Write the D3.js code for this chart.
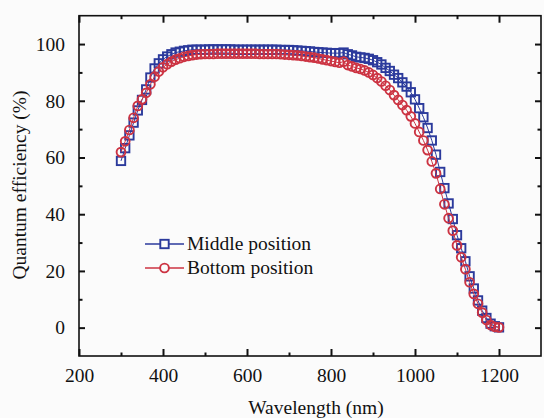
<!DOCTYPE html>
<html>
<head>
<meta charset="utf-8">
<script src="https://cdn.jsdelivr.net/npm/d3@7"></script>
<style>
  html, body { margin: 0; padding: 0; background: #fbfbfb; }
  svg { display: block; }
  text { font-family: "Liberation Serif", "Times New Roman", serif; fill: #111; }
</style>
</head>
<body>
<svg id="chart" width="544" height="418"></svg>
<script>
// Wavelength grid (nm), 10 nm steps
const wavelengths = d3.range(300, 1201, 10);

// External quantum efficiency (%) at the middle position
const middleQE = [
  58.8, 63.3, 67.8, 72.3, 76.6, 80.3, 84.0, 88.2, 91.4, 93.2,
  94.6, 95.6, 96.4, 97.0, 97.3, 97.6, 97.8, 98.0, 98.0, 98.0,
  98.0, 98.1, 98.1, 98.1, 98.1, 98.1, 98.1, 98.0, 98.0, 98.0,
  98.0, 98.0, 98.0, 98.0, 98.0, 98.0, 98.0, 98.0, 97.9, 97.9,
  97.9, 97.8, 97.7, 97.6, 97.5, 97.4, 97.2, 97.1, 97.0, 96.9,
  96.8, 96.8, 96.8, 97.0, 96.4, 96.0, 95.5, 95.3, 95.1, 94.8,
  94.3, 93.6, 92.8, 91.6, 90.5, 89.2, 88.0, 86.5, 85.0, 83.0,
  80.5, 77.4, 74.2, 70.4, 66.0, 61.0, 54.9, 49.2, 43.8, 38.3,
  32.6, 28.0, 23.4, 18.1, 13.8, 9.6, 6.0, 3.4, 1.4, 0.5,
  0.1
];

// External quantum efficiency (%) at the bottom position
const bottomQE = [
  61.9, 65.7, 69.7, 74.0, 78.2, 80.5, 82.8, 85.8, 88.5, 90.3,
  91.8, 92.9, 93.8, 94.5, 95.0, 95.5, 95.8, 96.1, 96.3, 96.4,
  96.5, 96.5, 96.5, 96.6, 96.6, 96.6, 96.6, 96.6, 96.6, 96.6,
  96.6, 96.6, 96.6, 96.5, 96.5, 96.5, 96.5, 96.5, 96.4, 96.3,
  96.2, 96.1, 96.0, 95.8, 95.6, 95.4, 95.2, 94.9, 94.6, 94.3,
  94.0, 93.7, 93.4, 93.8, 92.6, 92.1, 91.6, 91.2, 90.7, 90.0,
  89.1, 88.0, 86.8, 85.3, 83.8, 82.0, 80.3, 78.5, 76.7, 74.5,
  72.0, 69.0, 66.0, 62.6, 58.6, 54.4, 48.9, 43.5, 38.6, 34.2,
  29.0, 24.8, 20.6, 16.0, 11.9, 8.4, 5.3, 2.7, 0.9, 0.3,
  0.1
];

const xTicks = [200, 400, 600, 800, 1000, 1200];
const yTicks = [0, 20, 40, 60, 80, 100];
const seriesNames = ["Middle position", "Bottom position"];
const blue = "#2b3a9c";
const red = "#cc3342";

const svg = d3.select("#chart");
const plotLeft = 79, plotRight = 541, plotTop = 15.7, plotBottom = 356;

const x = d3.scaleLinear().domain([200, 1300]).range([plotLeft, plotRight]);
const y = d3.scaleLinear().domain([-10, 110]).range([plotBottom, plotTop]);

const fontSize = "19.5px";
const serif = '"Liberation Serif", "Times New Roman", serif';

// Axes with inward-pointing major and minor ticks on all four sides
function styleAxis(g) {
  g.select(".domain").remove();
  g.selectAll(".tick line").attr("stroke", "#111").attr("stroke-width", 2);
  g.selectAll(".tick text").style("font-size", fontSize)
    .style("font-family", serif).attr("fill", "#111");
}
const xMinor = d3.range(300, 1300, 200);
const yMinor = d3.range(-10, 110, 20).filter(v => v > -10);

svg.append("g").attr("transform", `translate(0,${plotBottom})`)
  .call(d3.axisBottom(x).tickValues(xTicks).tickSize(-7).tickPadding(12).tickFormat(d3.format("d")))
  .call(styleAxis);
svg.append("g").attr("transform", `translate(0,${plotBottom})`)
  .call(d3.axisBottom(x).tickValues(xMinor).tickSize(-3.5).tickFormat(""))
  .call(styleAxis);
svg.append("g").attr("transform", `translate(0,${plotTop})`)
  .call(d3.axisTop(x).tickValues(xTicks).tickSize(-7).tickFormat(""))
  .call(styleAxis);
svg.append("g").attr("transform", `translate(0,${plotTop})`)
  .call(d3.axisTop(x).tickValues(xMinor).tickSize(-3.5).tickFormat(""))
  .call(styleAxis);

svg.append("g").attr("transform", `translate(${plotLeft},0)`)
  .call(d3.axisLeft(y).tickValues(yTicks).tickSize(-6).tickPadding(14).tickFormat(d3.format("d")))
  .call(styleAxis);
svg.append("g").attr("transform", `translate(${plotLeft},0)`)
  .call(d3.axisLeft(y).tickValues(yMinor).tickSize(-3.5).tickFormat(""))
  .call(styleAxis);
svg.append("g").attr("transform", `translate(${plotRight},0)`)
  .call(d3.axisRight(y).tickValues(yTicks).tickSize(-6).tickFormat(""))
  .call(styleAxis);
svg.append("g").attr("transform", `translate(${plotRight},0)`)
  .call(d3.axisRight(y).tickValues(yMinor).tickSize(-3.5).tickFormat(""))
  .call(styleAxis);

// Frame
svg.append("rect")
  .attr("x", plotLeft).attr("y", plotTop)
  .attr("width", plotRight - plotLeft).attr("height", plotBottom - plotTop)
  .attr("fill", "none").attr("stroke", "#111").attr("stroke-width", 1.6);

// Axis titles
svg.append("text")
  .attr("x", 316).attr("y", 414)
  .attr("text-anchor", "middle").style("font-size", fontSize).style("font-family", serif)
  .text("Wavelength (nm)");
svg.append("text")
  .attr("transform", `translate(26,185) rotate(-90)`)
  .attr("text-anchor", "middle").style("font-size", fontSize).style("font-family", serif)
  .text("Quantum efficiency (%)");

// Data series
const plot = svg.append("g");
const line = d3.line().x(d => x(d[0])).y(d => y(d[1]));
const mid = wavelengths.map((w, i) => [w, middleQE[i]]);
const bot = wavelengths.map((w, i) => [w, bottomQE[i]]);

const sq = 8.4, rc = 4.4;

plot.append("path").datum(mid).attr("d", line)
  .attr("fill", "none").attr("stroke", blue).attr("stroke-width", 1);
plot.selectAll("rect.mid").data(mid).join("rect").attr("class", "mid")
  .attr("x", d => x(d[0]) - sq / 2).attr("y", d => y(d[1]) - sq / 2)
  .attr("width", sq).attr("height", sq)
  .attr("fill", "none").attr("stroke", blue).attr("stroke-width", 1.9);

plot.append("path").datum(bot).attr("d", line)
  .attr("fill", "none").attr("stroke", red).attr("stroke-width", 1);
plot.selectAll("circle.bot").data(bot).join("circle").attr("class", "bot")
  .attr("cx", d => x(d[0])).attr("cy", d => y(d[1])).attr("r", rc)
  .attr("fill", "none").attr("stroke", red).attr("stroke-width", 1.9);

// Legend
const legend = svg.append("g");
const legendRows = [
  { name: seriesNames[0], color: blue, shape: "square", yPos: 244 },
  { name: seriesNames[1], color: red, shape: "circle", yPos: 268 }
];
legendRows.forEach(r => {
  legend.append("line").attr("x1", 145).attr("x2", 184)
    .attr("y1", r.yPos).attr("y2", r.yPos)
    .attr("stroke", r.color).attr("stroke-width", 1.3);
  if (r.shape === "square") {
    legend.append("rect").attr("x", 164.5 - sq / 2).attr("y", r.yPos - sq / 2)
      .attr("width", sq).attr("height", sq)
      .attr("fill", "#fbfbfb").attr("stroke", r.color).attr("stroke-width", 1.9);
  } else {
    legend.append("circle").attr("cx", 164.5).attr("cy", r.yPos).attr("r", rc)
      .attr("fill", "#fbfbfb").attr("stroke", r.color).attr("stroke-width", 1.9);
  }
  legend.append("text").attr("x", 187).attr("y", r.yPos + 6)
    .style("font-size", fontSize).style("font-family", serif).text(r.name);
});
</script>
</body>
</html>
